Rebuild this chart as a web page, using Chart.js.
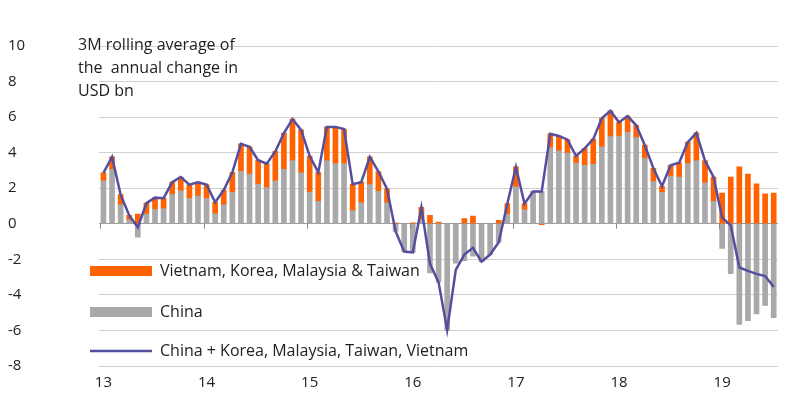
<!DOCTYPE html>
<html><head><meta charset="utf-8">
<script src="https://cdn.jsdelivr.net/npm/chart.js@4"></script>
<style>html,body{margin:0;padding:0;background:#fff}#w{width:800px;height:412px}</style>
</head><body><div id="w"><canvas id="c"></canvas></div>
<script>
const years=['13','14','15','16','17','18','19'];
const months=[];
for(let i=0;i<79;i++){months.push(i%12===0?years[i/12]:'');}
const china=[2.42,3.06,1.07,0.22,-0.75,0.55,0.81,0.85,1.64,1.85,1.42,1.56,1.42,0.57,1.07,1.77,2.94,2.8,2.23,2.03,2.42,3.06,3.55,2.86,1.78,1.26,3.55,3.38,3.38,0.74,1.18,2.2,1.82,1.18,-0.43,-1.56,-1.61,0.22,-2.77,-3.29,-5.97,-2.2,-2.08,-1.82,-2.13,-1.73,-1.04,0.52,2.08,0.78,1.82,1.82,4.28,4.1,3.98,3.41,3.29,3.34,4.33,4.9,4.94,5.16,4.85,3.67,2.37,1.77,2.68,2.63,3.38,3.55,2.3,1.26,-1.39,-2.8,-5.66,-5.45,-5.07,-4.59,-5.28];
const others=[0.44,0.7,0.57,0.25,0.55,0.61,0.66,0.59,0.7,0.78,0.78,0.78,0.78,0.64,0.83,1.12,1.56,1.53,1.35,1.35,1.65,2.04,2.34,2.42,2.03,1.63,1.9,2.07,1.95,1.48,1.16,1.56,1.12,0.78,0.05,0,0.05,0.7,0.48,0.09,0,0,0.29,0.43,0,0,0.2,0.61,1.12,0.35,0,-0.05,0.78,0.84,0.75,0.4,0.95,1.42,1.61,1.45,0.77,0.9,0.69,0.75,0.75,0.34,0.61,0.8,1.21,1.56,1.25,1.37,1.73,2.63,3.2,2.8,2.25,1.68,1.73];
const total=[2.86,3.76,1.64,0.47,-0.2,1.16,1.47,1.44,2.34,2.63,2.2,2.34,2.2,1.21,1.9,2.89,4.5,4.33,3.58,3.38,4.07,5.1,5.89,5.28,3.81,2.89,5.45,5.45,5.33,2.22,2.34,3.76,2.94,1.96,-0.43,-1.56,-1.61,0.92,-2.25,-3.29,-5.97,-2.6,-1.73,-1.35,-2.13,-1.73,-1.04,1.13,3.2,1.13,1.82,1.82,5.06,4.94,4.73,3.81,4.24,4.76,5.94,6.35,5.71,6.06,5.54,4.42,3.12,2.11,3.29,3.43,4.59,5.11,3.55,2.63,0.35,-0.09,-2.46,-2.65,-2.82,-2.94,-3.55];
const ORANGE='#FF6200',GRAY='#A9A9A9',PURPLE='#544E9E';
const FONT='"Open Sans", sans-serif';
const extra={id:'extra',afterDraw(ch){
  const c=ch.ctx,x=ch.scales.x,y=ch.scales.y,y0=y.getPixelForValue(0);
  c.save();c.strokeStyle='#888';c.lineWidth=1;
  years.forEach((_,k)=>{const px=Math.round(x.getPixelForValue(k*12)-3)+0.5;c.beginPath();c.moveTo(px,y0);c.lineTo(px,y0+5);c.stroke();});
  c.fillStyle='#222';c.font='16px '+FONT;c.textBaseline='middle';
  ['3M rolling average of','the  annual change in','USD bn'].forEach((t,i)=>c.fillText(t,78,45+i*23));
  c.fillStyle=ORANGE;c.fillRect(90,266,62,10);
  c.fillStyle=GRAY;c.fillRect(90,307,62,10);
  c.strokeStyle=PURPLE;c.lineWidth=2.5;c.beginPath();c.moveTo(90,351);c.lineTo(152,351);c.stroke();
  c.fillStyle='#222';
  c.fillText('Vietnam, Korea, Malaysia & Taiwan',160,271);
  c.fillText('China',160,312);
  c.fillText('China + Korea, Malaysia, Taiwan, Vietnam',160,351);
  c.restore();
}};
new Chart(document.getElementById('c'),{
  data:{labels:months,datasets:[
    {type:'line',data:total,borderColor:PURPLE,borderWidth:2.5,pointRadius:0,tension:0,order:0},
    {type:'bar',data:china,backgroundColor:GRAY,barThickness:5,stack:'s',order:1},
    {type:'bar',data:others,backgroundColor:ORANGE,barThickness:5,stack:'s',order:2}
  ]},
  options:{responsive:true,maintainAspectRatio:false,animation:false,
    layout:{padding:{left:8,right:22,top:-8,bottom:10}},
    plugins:{legend:{display:false},tooltip:{enabled:false}},
    scales:{
      x:{stacked:true,grid:{display:false},border:{display:false},
        ticks:{autoSkip:false,maxRotation:0,color:'#222',font:{family:FONT,size:15},padding:0,
          callback:(v,i)=>months[i]}},
      y:{stacked:true,min:-8,max:10,
        ticks:{stepSize:2,color:'#222',font:{family:FONT,size:15},padding:37,crossAlign:'far'},
        grid:{color:c=>c.tick.value===0?'#999':'#d0d0d0',drawTicks:false,lineWidth:1},
        border:{display:false}}
    }},
  plugins:[extra]
});
</script></body></html>
